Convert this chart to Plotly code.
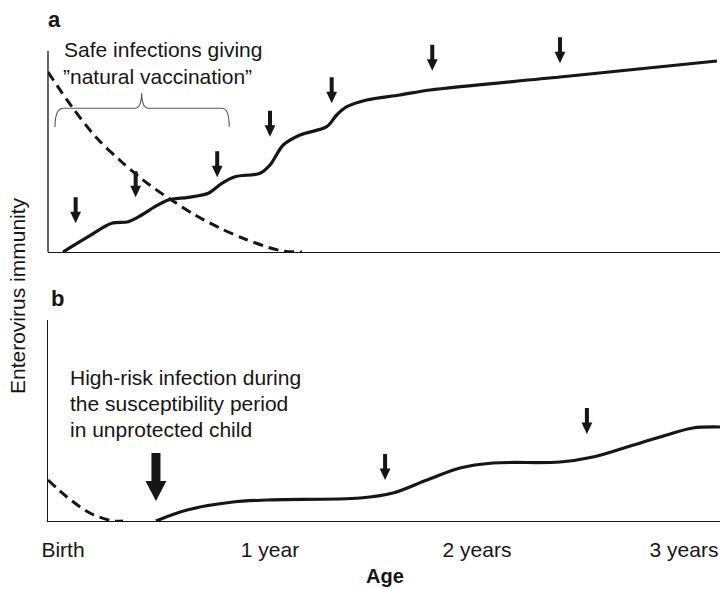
import plotly.graph_objects as go

# ---------------- data (age in years, immunity in arbitrary units 0-100) ----------------
tick_vals = [0, 1, 2, 3]
tick_text = ["Birth", "1 year", "2 years", "3 years"]

# Panel a: protected child
a_solid_x = [0, 0.122, 0.235, 0.315, 0.380, 0.444, 0.509, 0.605, 0.702, 0.767, 0.831, 0.952,
             1.000, 1.064, 1.145, 1.274, 1.322, 1.371, 1.467, 1.628, 1.773, 2.401, 3.159]
a_solid_y = [0, 7.65, 14.35, 15.15, 18.5, 22.65, 26, 27.35, 29.35, 34.35, 37.65, 39.35,
             43.5, 53.5, 58.5, 62.65, 68.5, 72.65, 76, 78.5, 81, 87.5, 95.5]
a_dash_x = [-0.0725, 0.0435, 0.163, 0.284, 0.412, 0.509, 0.638, 0.767, 0.879, 0.986, 1.063, 1.155]
a_dash_y = [90, 72.5, 57, 45, 34, 27, 18.5, 11.5, 6.5, 2.5, 0.5, 0]
a_infection_x = [0.061, 0.351, 0.745, 1.000, 1.298, 1.784, 2.401]
a_infection_y = [14.35, 27.35, 37.35, 57.65, 74.35, 90.65, 94.35]

# Panel b: unprotected child
b_solid_x = [0.449, 0.599, 0.821, 0.986, 1.435, 1.594, 1.758, 1.918, 2.077, 2.401, 2.560,
             2.725, 2.884, 3.043, 3.174]
b_solid_y = [0, 5.5, 9.5, 10.5, 11.5, 14, 20.5, 26.5, 29, 29.5, 32, 37, 42, 46.5, 47]
b_dash_x = [-0.0725, 0.019, 0.130, 0.242, 0.290]
b_dash_y = [20.5, 12, 4, 0, 0]
b_infection_x = [1.556, 2.531]
b_infection_y = [20.5, 43.5]
b_highrisk_x = [0.449]
b_highrisk_y = [10]

# ---------------- figure ----------------
FONT = "Liberation Sans, Arial, Helvetica, sans-serif"
INK = "#161616"
W, H = 720, 589
ML, MR, MT, MB = 48, 0, 30, 68
PH = H - MT - MB

def ypx_to_paper(py):
    return (H - MB - py) / PH

fig = go.Figure()

line_solid = dict(color=INK, width=3.2, shape="spline", smoothing=0.9)
line_dash = dict(color=INK, width=3, dash="10px,6px", shape="spline", smoothing=0.9)

fig.add_trace(go.Scatter(x=a_dash_x, y=a_dash_y, mode="lines", line=line_dash,
                         xaxis="x", yaxis="y", hoverinfo="skip"))
fig.add_trace(go.Scatter(x=a_solid_x, y=a_solid_y, mode="lines", line=line_solid,
                         xaxis="x", yaxis="y", hoverinfo="skip"))
fig.add_trace(go.Scatter(x=b_dash_x, y=b_dash_y, mode="lines", line=line_dash,
                         xaxis="x2", yaxis="y2", hoverinfo="skip"))
fig.add_trace(go.Scatter(x=b_solid_x, y=b_solid_y, mode="lines", line=line_solid,
                         xaxis="x2", yaxis="y2", hoverinfo="skip"))

xr = [-0.0725, 3.174]
Y_TOP = 100.5
common_x = dict(range=xr, showgrid=False, zeroline=False, showline=True,
                linecolor=INK, linewidth=1.3, ticks="", fixedrange=True)
common_y = dict(showgrid=False, zeroline=False, linecolor=INK, linewidth=1.3,
                ticks="", showticklabels=False, fixedrange=True)

a_bottom = ypx_to_paper(252)
b_top = ypx_to_paper(320)
# panel a plot area extends above the axis line so the arrows are not clipped
a_range_top = Y_TOP * (252 - MT) / (252 - 51)

fig.update_layout(
    width=W, height=H,
    margin=dict(l=ML, r=MR, t=MT, b=MB, pad=0),
    paper_bgcolor="white", plot_bgcolor="white",
    showlegend=False,
    font=dict(family=FONT, size=21, color=INK),
    xaxis=dict(common_x, domain=[0, 1], anchor="y", showticklabels=False),
    yaxis=dict(common_y, domain=[a_bottom, 1.0], anchor="x", range=[0, a_range_top],
               showline=False),
    xaxis2=dict(common_x, domain=[0, 1], anchor="y2", tickmode="array",
                tickvals=tick_vals, ticktext=tick_text,
                tickfont=dict(family=FONT, size=21, color=INK), ticklabelstandoff=9),
    yaxis2=dict(common_y, domain=[0, b_top], anchor="x2", range=[0, Y_TOP], showline=True),
)

# ---------------- arrows (infection events) ----------------
def small_arrow():
    return "M -2,26 L 2,26 L 2,11.5 L 5.4,11.5 L 0,0 L -5.4,11.5 L -2,11.5 Z"

def big_arrow():
    return "M -4.5,48 L 4.5,48 L 4.5,20 L 10.5,20 L 0,0 L -10.5,20 L -4.5,20 Z"

shapes = []
# left axis line for panel a (limited to the panel's value range)
shapes.append(dict(type="line", xref="paper", yref="y", x0=0, x1=0, y0=0, y1=Y_TOP,
                   line=dict(color=INK, width=1.3)))
for x, y in zip(a_infection_x, a_infection_y):
    shapes.append(dict(type="path", xref="x", yref="y", xsizemode="pixel", ysizemode="pixel",
                       xanchor=x, yanchor=y, path=small_arrow(),
                       fillcolor=INK, line=dict(width=0)))
for x, y in zip(b_infection_x, b_infection_y):
    shapes.append(dict(type="path", xref="x2", yref="y2", xsizemode="pixel", ysizemode="pixel",
                       xanchor=x, yanchor=y, path=small_arrow(),
                       fillcolor=INK, line=dict(width=0)))
for x, y in zip(b_highrisk_x, b_highrisk_y):
    shapes.append(dict(type="path", xref="x2", yref="y2", xsizemode="pixel", ysizemode="pixel",
                       xanchor=x, yanchor=y, path=big_arrow(),
                       fillcolor=INK, line=dict(width=0)))

# curly brace over the "natural vaccination" period (panel a, data coords)
brace = ("M -0.0386,62.5 Q -0.0386,71.85 0.0014,71.85 L 0.348,71.85 "
         "Q 0.378,71.85 0.380,79.35 Q 0.382,71.85 0.412,71.85 L 0.767,71.85 "
         "Q 0.803,71.85 0.803,62.65")
shapes.append(dict(type="path", xref="x", yref="y", path=brace,
                   line=dict(color="#555555", width=1.1)))
fig.update_layout(shapes=shapes)

# ---------------- text ----------------
def px2paper(px, py):
    pw = W - ML - MR
    return (px - ML) / pw, ypx_to_paper(py)

ann = []
def add_text(text, px, py, size=21, bold=False, xanchor="left", angle=0):
    x, y = px2paper(px, py)
    ann.append(dict(text=f"<b>{text}</b>" if bold else text, x=x, y=y, xref="paper",
                    yref="paper", xanchor=xanchor, yanchor="middle", showarrow=False,
                    textangle=angle, font=dict(family=FONT, size=size, color=INK)))

add_text("a", 54, 20, size=22, bold=True, xanchor="center")
add_text("b", 57, 299, size=22, bold=True, xanchor="center")
add_text("Safe infections giving", 62, 50)
add_text("\u201dnatural vaccination\u201d", 61, 76)
add_text("High-risk infection during", 68, 378)
add_text("the susceptibility period", 68, 403)
add_text("in unprotected child", 68, 429)
add_text("Age", 385, 576, size=20, bold=True, xanchor="center")
add_text("Enterovirus immunity", 18, 296, size=21, xanchor="center", angle=-90)
fig.update_layout(annotations=ann)

fig.write_html("out.html",
               config={"displayModeBar": False, "staticPlot": True},
               post_script="document.body.style.margin='0';document.body.style.overflow='hidden';")
